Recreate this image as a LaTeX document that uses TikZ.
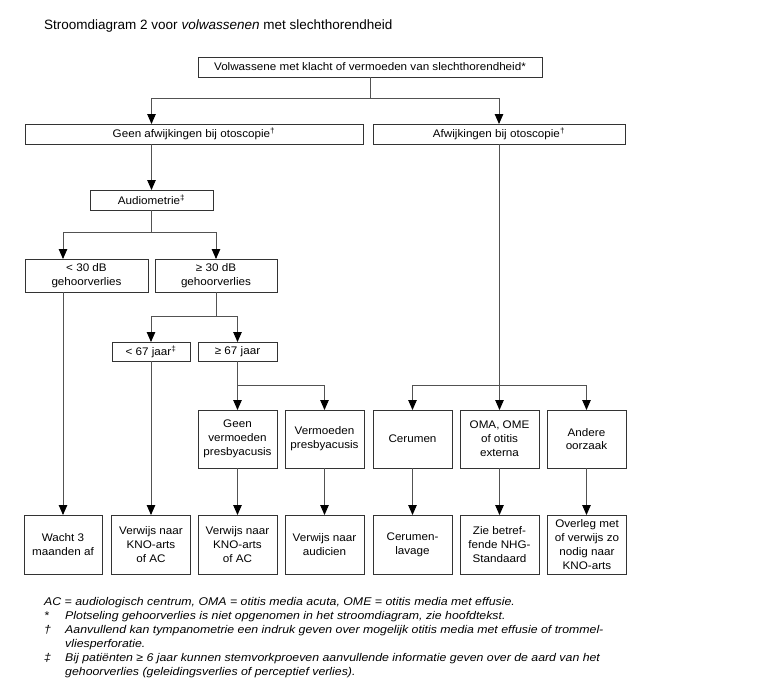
\documentclass[tikz,border=0pt]{standalone}
\usepackage{fontspec}
\setmainfont{Liberation Sans}
\newfontfamily\notefont{Liberation Sans}[FakeStretch=1.1]
\newfontfamily\boxfont{Liberation Sans}[FakeStretch=1.06]
\usetikzlibrary{arrows.meta}
\begin{document}
\begin{tikzpicture}[x=1pt,y=-1pt,
  box/.style={draw=black!80, line width=0.9pt, inner sep=0pt, outer sep=0pt, align=center,
    font=\boxfont\fontsize{11}{13.8}\selectfont},
  wide/.style={box, minimum height=20pt},
  cell/.style={box, minimum width=79pt},
  conn/.style={draw=black!68, line width=0.9pt},
  arr/.style={conn, -{Triangle[length=10pt,width=8.5pt,color=black]}},
  note/.style={anchor=base west, inner sep=0pt, font=\notefont\fontsize{11.2}{12}\selectfont\itshape}
]
\useasboundingbox (0,0) rectangle (768,697);

\node[anchor=base west, inner sep=0pt, font=\fontsize{13.5}{16}\selectfont] (title) at (44,29)
  {Stroomdiagram 2 voor \textit{volwassenen} met slechthorendheid};

\node[wide, minimum width=344pt] (top) at (370,67) {Volwassene met klacht of vermoeden van slechthorendheid*};
\node[wide, minimum width=338pt] (geen) at (194,134) {Geen afwijkingen bij otoscopie\textsuperscript{†}};
\node[wide, minimum width=252pt] (afw) at (499,134) {Afwijkingen bij otoscopie\textsuperscript{†}};
\node[wide, minimum width=123pt] (audio) at (151.5,200) {Audiometrie\textsuperscript{‡}};
\node[box, minimum width=123pt, minimum height=33pt] (lt30) at (86.5,275.5) {< 30 dB\\gehoorverlies};
\node[box, minimum width=122pt, minimum height=33pt] (ge30) at (216,275.5) {≥ 30 dB\\gehoorverlies};
\node[cell, minimum width=78pt, minimum height=19pt] (lt67) at (151,351.5) {< 67 jaar\textsuperscript{‡}};
\node[cell, minimum height=19pt] (ge67) at (237.5,351.5) {≥ 67 jaar};

\node[cell, minimum height=58pt] (geenv) at (237.5,439) {Geen\\vermoeden\\presbyacusis};
\node[cell, minimum height=58pt] (verm) at (324.5,439) {Vermoeden\\presbyacusis};
\node[cell, minimum height=58pt] (cer) at (412.5,439) {Cerumen};
\node[cell, minimum height=58pt] (oma) at (499.5,439) {OMA, OME\\of otitis\\externa};
\node[cell, minimum height=58pt] (andere) at (586.5,439) {Andere\\oorzaak};

\node[cell, minimum width=78pt, minimum height=59pt] (wacht) at (63,544.5) {Wacht 3\\maanden af};
\node[cell, minimum height=59pt] (kno1) at (151,544.5) {Verwijs naar\\KNO-arts\\of AC};
\node[cell, minimum height=59pt] (kno2) at (237.5,544.5) {Verwijs naar\\KNO-arts\\of AC};
\node[cell, minimum height=59pt] (audic) at (324.5,544.5) {Verwijs naar\\audicien};
\node[cell, minimum height=59pt] (lav) at (412.5,544.5) {Cerumen-\\lavage};
\node[cell, minimum height=59pt] (nhg) at (499.5,544.5) {Zie betref-\\fende NHG-\\Standaard};
\node[cell, minimum height=59pt] (overleg) at (587,544.5) {Overleg met\\of verwijs zo\\nodig naar\\KNO-arts};

% connectors
\coordinate (j1) at (370,98);
\draw[conn] (top.south) -- (j1);
\draw[arr] (j1) -| (audio.north |- geen.north);
\draw[arr] (j1) -| (afw.north);
\draw[arr] (audio.north |- geen.south) -- (audio.north);

\coordinate (j2) at (151.5,232);
\draw[conn] (audio.south) -- (j2);
\draw[arr] (j2) -| (wacht.north |- lt30.north);
\draw[arr] (j2) -| (ge30.north);

\coordinate (j3) at (216,316);
\draw[conn] (ge30.south) -- (j3);
\draw[arr] (j3) -| (lt67.north);
\draw[arr] (j3) -| (ge67.north);

\coordinate (j4) at (237.5,385);
\draw[arr] (ge67.south) -- (geenv.north);
\draw[arr] (j4) -| (verm.north);

\coordinate (j5) at (499.5,385);
\draw[arr] (afw.south -| oma.north) -- (oma.north);
\draw[arr] (j5) -| (cer.north);
\draw[arr] (j5) -| (andere.north);

\draw[arr] (wacht.north |- lt30.south) -- (wacht.north);
\draw[arr] (lt67.south) -- (lt67.south |- kno1.north);
\draw[arr] (geenv.south) -- (kno2.north);
\draw[arr] (verm.south) -- (audic.north);
\draw[arr] (cer.south) -- (lav.north);
\draw[arr] (oma.south) -- (nhg.north);
\draw[arr] (andere.south) -- (andere.south |- overleg.north);

% notes
\node[note] (n0) at (44,605) {AC = audiologisch centrum, OMA = otitis media acuta, OME = otitis media met effusie.};
\node[note] (s1) at (44,619) {*};
\node[note] (n1) at (65,619) {Plotseling gehoorverlies is niet opgenomen in het stroomdiagram, zie hoofdtekst.};
\node[note] (s2) at (44,633) {†};
\node[note] (n2) at (65,633) {Aanvullend kan tympanometrie een indruk geven over mogelijk otitis media met effusie of trommel-};
\node[note] (n2b) at (65,647) {vliesperforatie.};
\node[note] (s3) at (44,661) {‡};
\node[note] (n3) at (65,661) {Bij patiënten ≥ 6 jaar kunnen stemvorkproeven aanvullende informatie geven over de aard van het};
\node[note] (n3b) at (65,675) {gehoorverlies (geleidingsverlies of perceptief verlies).};
\end{tikzpicture}
\end{document}
